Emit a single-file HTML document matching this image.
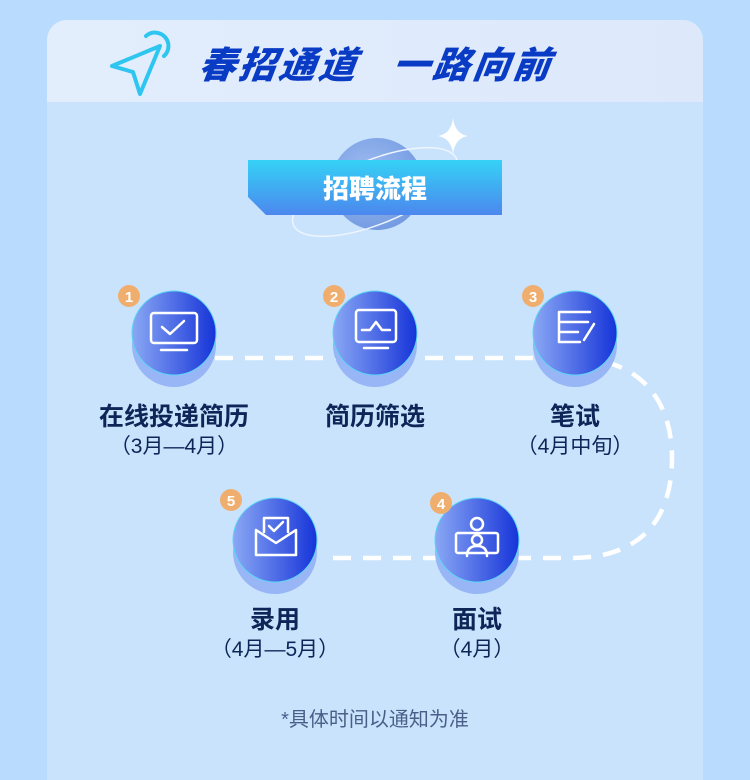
<!DOCTYPE html>
<html><head><meta charset="utf-8"><style>
html,body{margin:0;padding:0;}
body{width:750px;height:760px;background:#b9dbfd;position:relative;overflow:hidden;font-family:"Liberation Sans","Noto Sans CJK SC",sans-serif;}
.panel{position:absolute;left:47px;top:20px;width:656px;height:760px;background:#c9e3fd;border-radius:20px 20px 0 0;overflow:hidden;}
.head{position:absolute;left:0;top:0;width:656px;height:82px;background:linear-gradient(90deg,#e2eefc,#dde9fb);}
.title{position:absolute;left:152px;top:26px;font-size:37px;line-height:40px;font-weight:900;color:#0a3bc4;font-style:italic;letter-spacing:3px;white-space:nowrap;transform:skewX(-8deg);}
.lbl{position:absolute;width:240px;text-align:center;font-weight:700;font-size:25px;line-height:28px;color:#0d2557;}
.sub{position:absolute;width:240px;text-align:center;font-size:21px;line-height:26px;color:#0d2557;}
.note{position:absolute;left:0;width:750px;text-align:center;font-size:20px;color:#4a5f88;}
</style></head><body>
<div class="panel"><div class="head"></div><div class="title">春招通道<span style="display:inline-block;width:34px"></span>一路向前</div></div>
<svg width="750" height="760" style="position:absolute;left:0;top:0">
<defs>
<linearGradient id="g" x1="0" x2="1" y1="0" y2="0"><stop offset="0" stop-color="#8aa8f4"/><stop offset="1" stop-color="#1634d8"/></linearGradient>
<linearGradient id="b" x1="0" x2="0" y1="0" y2="1"><stop offset="0" stop-color="#35d2f6"/><stop offset="1" stop-color="#4c87ee"/></linearGradient>
<radialGradient id="p" cx="0.4" cy="0.4" r="0.7"><stop offset="0" stop-color="#9fbdf0"/><stop offset="1" stop-color="#6f97e0"/></radialGradient>
</defs>
<path d="M112 66 L160 46 L140 94 L133 72 Z" fill="none" stroke="#2ec6f0" stroke-width="4" stroke-linejoin="round"/>
<path d="M146 36 A12 12 0 0 1 164 56" fill="none" stroke="#2ec6f0" stroke-width="4" stroke-linecap="round"/>
<circle cx="377" cy="184" r="46" fill="url(#p)"/>
<ellipse cx="375" cy="192" rx="88" ry="32" transform="rotate(-22 375 192)" fill="none" stroke="#eef5ff" stroke-width="1.5"/>
<path d="M453 118 Q455 134 468 136 Q455 138 453 154 Q451 138 438 136 Q451 134 453 118Z" fill="#fff"/>
<path d="M248 160 H502 V215 H266 L248 197 Z" fill="url(#b)"/>
<text x="375" y="198" text-anchor="middle" font-size="26" font-weight="900" fill="#fff" font-family="Liberation Sans,Noto Sans CJK SC,sans-serif">招聘流程</text>
<path d="M215 358 H572 C640 358 672 400 672 458 C672 520 640 558 572 558 H330" fill="none" stroke="#fff" stroke-width="4.5" stroke-dasharray="18 12"/>
<g>
<circle cx="174" cy="345" r="42" fill="#98b6f6"/><circle cx="174" cy="333" r="42" fill="url(#g)" stroke="#5ad6f4" stroke-width="1"/>
<circle cx="375" cy="345" r="42" fill="#98b6f6"/><circle cx="375" cy="333" r="42" fill="url(#g)" stroke="#5ad6f4" stroke-width="1"/>
<circle cx="575" cy="345" r="42" fill="#98b6f6"/><circle cx="575" cy="333" r="42" fill="url(#g)" stroke="#5ad6f4" stroke-width="1"/>
<circle cx="275" cy="552" r="42" fill="#98b6f6"/><circle cx="275" cy="540" r="42" fill="url(#g)" stroke="#5ad6f4" stroke-width="1"/>
<circle cx="477" cy="552" r="42" fill="#98b6f6"/><circle cx="477" cy="540" r="42" fill="url(#g)" stroke="#5ad6f4" stroke-width="1"/>
</g>
<g fill="none" stroke="#fff" stroke-width="2.5" stroke-linecap="round" stroke-linejoin="round">
<rect x="151" y="313" width="46" height="30" rx="3"/><path d="M162 327 L170 334 L184 321"/><path d="M161 350 H187"/>
<rect x="356" y="310" width="40" height="32" rx="3"/><path d="M362 330 H370 L376 322 L382 330 H390"/><path d="M364 348 H388"/>
<path d="M590 312 H559 V342 H580 M559 322 H588 M559 332 H578"/><path d="M594 324 L584 340"/>
<path d="M264 518 H288 V532 M264 532 V518"/><path d="M269 526 L274 531 L283 522"/><path d="M256 530 V555 H296 V530 L276 543 L256 530"/>
<circle cx="477" cy="524" r="6"/><rect x="456" y="533" width="42" height="20" rx="2"/><circle cx="477" cy="540" r="5"/><path d="M467 556 Q467 546 477 546 Q487 546 487 556"/>
</g>
<g font-family="Liberation Sans,sans-serif" font-size="15" font-weight="700" fill="#fff" text-anchor="middle">
<circle cx="129" cy="296" r="11" fill="#f0ae6e"/><text x="129" y="302">1</text>
<circle cx="334" cy="296" r="11" fill="#f0ae6e"/><text x="334" y="302">2</text>
<circle cx="533" cy="296" r="11" fill="#f0ae6e"/><text x="533" y="302">3</text>
<circle cx="231" cy="500" r="11" fill="#f0ae6e"/><text x="231" y="506">5</text>
<circle cx="441" cy="503" r="11" fill="#f0ae6e"/><text x="441" y="509">4</text>
</g>
</svg>
<div class="lbl" style="left:54px;top:403px">在线投递简历</div>
<div class="sub" style="left:54px;top:434px">（3月—4月）</div>
<div class="lbl" style="left:255px;top:403px">简历筛选</div>
<div class="lbl" style="left:455px;top:403px">笔试</div>
<div class="sub" style="left:455px;top:434px">（4月中旬）</div>
<div class="lbl" style="left:155px;top:606px">录用</div>
<div class="sub" style="left:155px;top:637px">（4月—5月）</div>
<div class="lbl" style="left:357px;top:606px">面试</div>
<div class="sub" style="left:357px;top:637px">（4月）</div>
<div class="note" style="top:703px">*具体时间以通知为准</div>
</body></html>
